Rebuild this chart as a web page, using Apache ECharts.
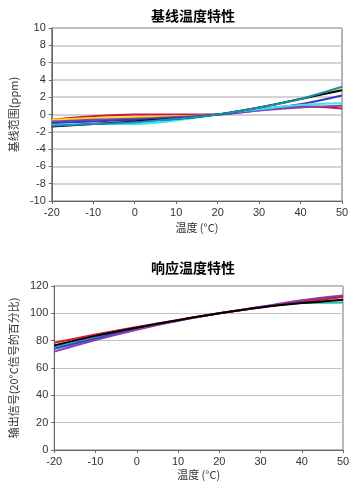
<!DOCTYPE html>
<html><head><meta charset="utf-8">
<script src="https://cdn.jsdelivr.net/npm/echarts@6/dist/echarts.min.js"></script>
<style>html,body{margin:0;padding:0;background:#fff}#c{width:361px;height:490px}</style>
</head><body><div id="c"></div>
<script>
const temps = [-20, -10, 0, 10, 20, 30, 40, 50];
const xTicks = [-20, -10, 0, 10, 20, 30, 40, 50];
const baseYTicks = [-10, -8, -6, -4, -2, 0, 2, 4, 6, 8, 10];
const respYTicks = [0, 20, 40, 60, 80, 100, 120];

// baseline (ppm)
const baseRed    = [-0.6, -0.2, 0.0, 0.0, 0.0, 0.5, 0.95, 0.7];
const baseYellow = [-0.6, -0.4, -0.3, -0.2, 0.0, 0.8, 1.8, 2.9];
const basePurple = [-0.8, -0.6, -0.5, -0.3, 0.0, 0.45, 0.8, 1.0];
const baseBlue   = [-1.0, -0.8, -0.6, -0.4, 0.0, 0.6, 1.2, 2.2];
const baseCyan   = [-1.2, -1.1, -1.1, -0.7, 0.0, 0.6, 1.1, 1.3];
const baseBlack  = [-1.4, -1.1, -0.8, -0.5, 0.0, 0.8, 1.8, 2.8];
const baseTeal   = [-1.3, -1.1, -0.9, -0.5, 0.0, 0.8, 1.8, 3.2];

// response (% of 20°C signal)
const respRed    = [78.5, 84.5, 90, 95.2, 100, 104.3, 108.2, 112];
const respTeal   = [75, 82.5, 89, 94.8, 100, 104.5, 107.5, 108];
const respBlue   = [74, 81.5, 88.5, 94.7, 100, 104.6, 108.6, 112.5];
const respPurple = [72, 80.5, 88, 94.5, 100, 104.8, 109.5, 113];
const respBlack  = [76.5, 83.5, 89.5, 95, 100, 104.3, 107.5, 110];

const pairs = a => temps.map((t, i) => [t, a[i]]);
const ln = (data, color, xi) => ({type:'line', xAxisIndex:xi, yAxisIndex:xi, data:pairs(data), smooth:0.35, symbol:'none', lineStyle:{color:color, width:2}, itemStyle:{color:color}});

const lab = {fontFamily:'Liberation Sans, Arial, sans-serif', fontSize:11, color:'#333'};
const nameSt = {fontFamily:'Noto Sans CJK SC', fontSize:11, color:'#333'};

function xAx(gi, gap, margin){
  return {gridIndex:gi, type:'value', min:-20, max:50, interval:10,
    name:'温度 (°C)', nameLocation:'middle', nameGap:gap, nameTextStyle:nameSt,
    axisLine:{onZero:false, lineStyle:{color:'#666', width:1}}, axisTick:{show:true, length:3, lineStyle:{color:'#666'}},
    axisLabel:Object.assign({margin:margin}, lab), splitLine:{show:false}};
}
function yAx(gi, min, max, iv, name, gap, gw){
  return {gridIndex:gi, type:'value', min:min, max:max, interval:iv,
    name:name, nameLocation:'middle', nameGap:gap, nameTextStyle:nameSt,
    axisLine:{show:true, onZero:false, lineStyle:{color:'#666', width:1}}, axisTick:{show:true, length:3, lineStyle:{color:'#666'}},
    axisLabel:Object.assign({margin:6}, lab), splitLine:{show:true, lineStyle:{color:'#c4c4c4', width:gw}}};
}

const chart = echarts.init(document.getElementById('c'), null, {renderer:'canvas'});
chart.setOption({
  animation:false,
  title:[
    {text:'基线温度特性', left:188, top:4, textAlign:'center', textStyle:{fontFamily:'Noto Sans CJK SC', fontSize:14, fontWeight:'bold', color:'#000'}},
    {text:'响应温度特性', left:188, top:256, textAlign:'center', textStyle:{fontFamily:'Noto Sans CJK SC', fontSize:14, fontWeight:'bold', color:'#000'}}
  ],
  grid:[
    {left:49, right:19, top:28, height:173, show:true, borderColor:'#666', borderWidth:1},
    {left:49, right:18, top:286, height:164, show:true, borderColor:'#777', borderWidth:1}
  ],
  xAxis:[xAx(0, 21, 6), xAx(1, 19, 6)],
  yAxis:[yAx(0, -10, 10, 2, '基线范围(ppm)', 23, 1.5), yAx(1, 0, 120, 20, '输出信号(20°C信号的百分比)', 30, 1)],
  series:[
    ln(baseRed, '#d0143c', 0),
    ln(baseYellow, '#f2e200', 0),
    ln(basePurple, '#8a3fb0', 0),
    ln(baseBlue, '#3535c8', 0),
    ln(baseCyan, '#33e6f2', 0),
    ln(baseBlack, '#000000', 0),
    ln(baseTeal, '#1a8fa8', 0),
    ln(respTeal, '#20b0b0', 1),
    ln(respBlue, '#3a3ad0', 1),
    ln(respPurple, '#8040b8', 1),
    ln(respRed, '#d81830', 1),
    ln(respBlack, '#000000', 1)
  ]
});
</script></body></html>
